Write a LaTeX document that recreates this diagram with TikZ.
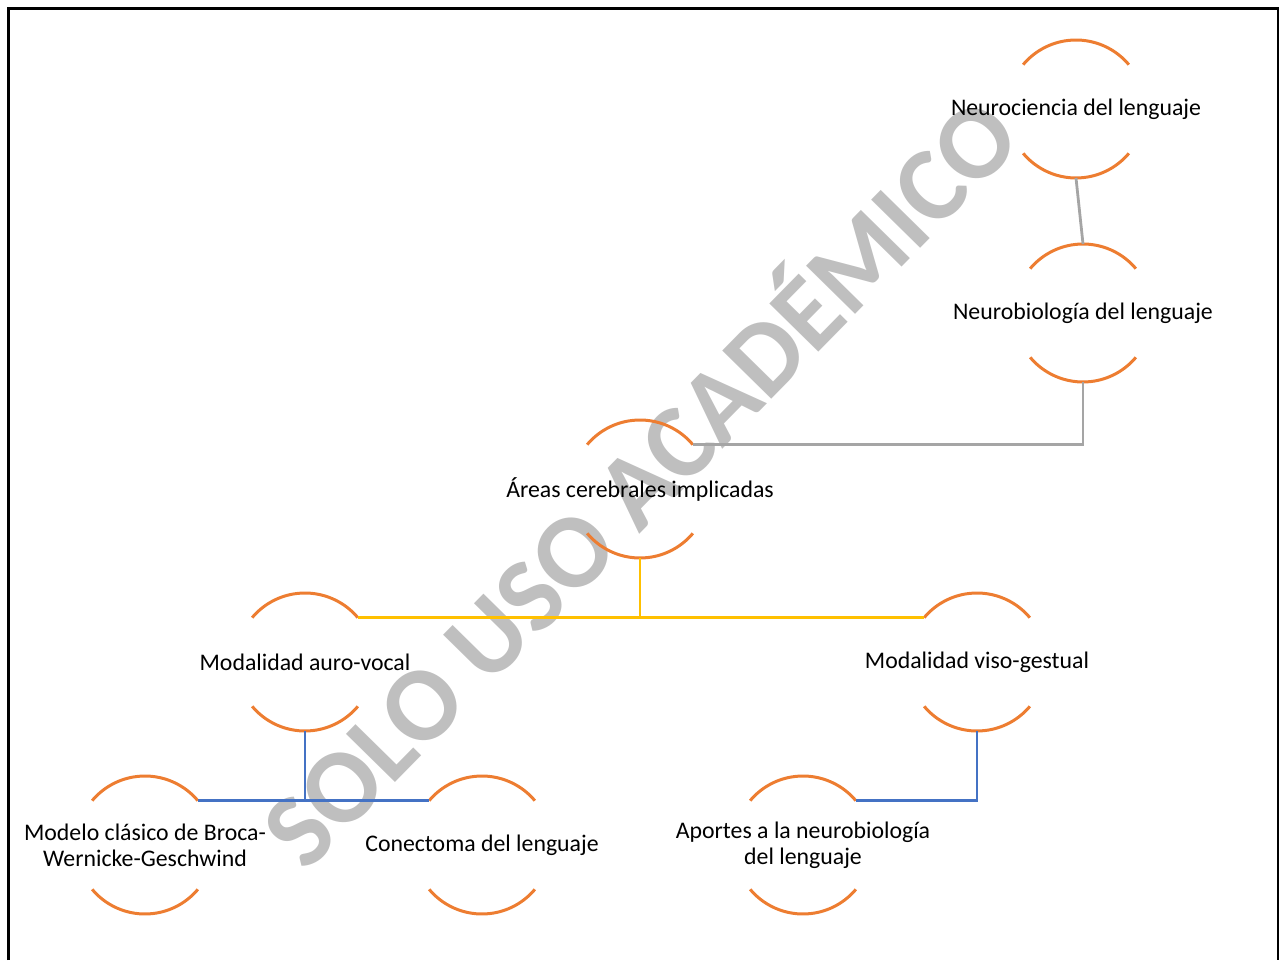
\documentclass[tikz,border=0pt]{standalone}
\usepackage{fontspec}
\setmainfont{Carlito}
\usepackage{tikz}
\usetikzlibrary{positioning,calc}
\definecolor{arco}{RGB}{237,125,49}
\definecolor{gris}{RGB}{165,165,165}
\definecolor{amarillo}{RGB}{255,192,0}
\definecolor{azul}{RGB}{68,114,196}
\definecolor{marca}{RGB}{191,191,191}

\begin{document}
\begin{tikzpicture}[x=0.5pt, y=0.5pt,
    bubble/.style={circle, minimum size=69pt, inner sep=0pt, outer sep=0pt},
    txt/.style={align=center, font=\fontsize{11.9}{13}\selectfont},
    arcline/.style={arco, line width=1.5pt},
    link/.style={line width=1.4pt}]

    % Marco y tamaño de la hoja
    \useasboundingbox (0,0) rectangle (1279,960);
    \draw[line width=1.5pt] (8,0) -- (8,951) -- (1278,951) -- (1278,0);

    % =========================================================================
    % MARCA DE AGUA
    % =========================================================================
    \node[marca, rotate=45.5, font=\fontsize{53}{60}\selectfont\bfseries] (wm) at (634,483) {SOLO USO ACADÉMICO};

    % =========================================================================
    % NODOS
    % =========================================================================
    \node[bubble] (neuro)  at (1076,851) {};
    \node[bubble] (nbio)   at (1083,647) {};
    \node[bubble] (areas)  at (640,471)  {};
    \node[bubble] (auro)   at (305,298)  {};
    \node[bubble] (viso)   at (977,298)  {};
    \node[bubble] (modelo) at (145,115)  {};
    \node[bubble] (conect) at (482,115)  {};
    \node[bubble] (aport)  at (803,115)  {};

    % Arcos superior e inferior de cada nodo
    \foreach \n in {neuro, nbio, areas, auro, viso, modelo, conect, aport} {
        \draw[arcline] (\n.40) arc[start angle=40, end angle=140, radius=34.5pt];
        \draw[arcline] (\n.220) arc[start angle=220, end angle=320, radius=34.5pt];
    }

    % Textos
    \node[txt] (neuroT)  at (neuro)  {Neurociencia del lenguaje};
    \node[txt] (nbioT)   at (nbio)   {Neurobiología del lenguaje};
    \node[txt] (areasT)  at (areas)  {Áreas cerebrales implicadas};
    \node[txt] (auroT)   at (auro)   {Modalidad auro-vocal};
    \node[txt] (visoT)   at (viso)   {Modalidad viso-gestual};
    \node[txt] (modeloT) at (modelo) {Modelo clásico de Broca-\\Wernicke-Geschwind};
    \node[txt] (conectT) at (conect) {Conectoma del lenguaje};
    \node[txt] (aportT)  at (aport)  {Aportes a la neurobiología\\del lenguaje};

    % =========================================================================
    % CONECTORES
    % =========================================================================
    \draw[link, gris] (neuro.south) -- (nbio.north);
    \draw[link, gris] (nbio.south) |- (areas.40);

    \draw[link, amarillo] (areas.south) |- (auro.40);
    \draw[link, amarillo] (areas.south) |- (viso.140);

    \draw[link, azul] (auro.south) |- (modelo.40);
    \draw[link, azul] (auro.south) |- (conect.140);
    \draw[link, azul] (viso.south) |- (aport.40);

\end{tikzpicture}
\end{document}
